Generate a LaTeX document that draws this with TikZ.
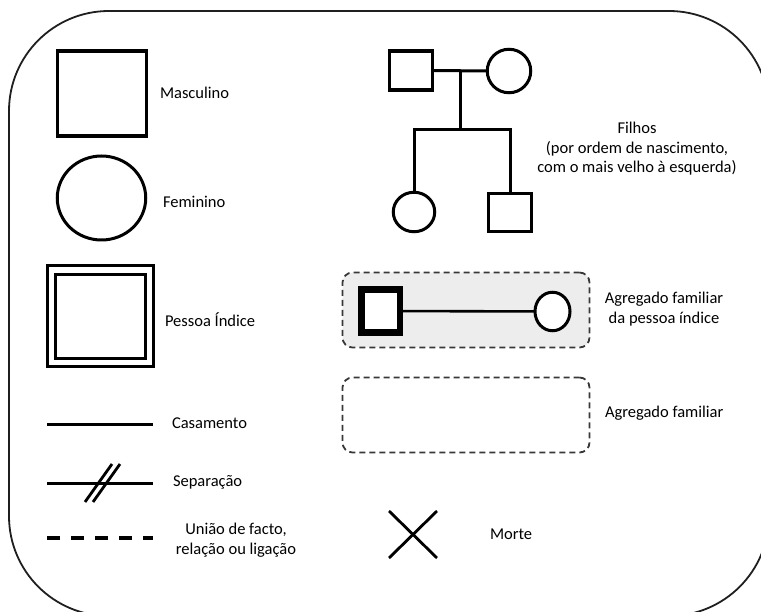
\documentclass[tikz,border=0pt]{standalone}
\usepackage{fontspec}
\setmainfont{Carlito}
\usetikzlibrary{shapes.geometric}
\begin{document}
\begin{tikzpicture}[x=1pt,y=-1pt,
  every node/.style={inner sep=0pt, outer sep=0pt},
  lbl/.style={font=\fontsize{16.5}{19.5}\selectfont, text=black, align=center},
  sq/.style={draw=black, line width=3.1pt, rectangle, fill=white},
  circ/.style={draw=black, line width=3pt, ellipse, fill=white},
  rel/.style={draw=black, line width=3pt},
  grp/.style={draw=black!78, line width=1.8pt, dash pattern=on 6pt off 4pt, rounded corners=10pt, rectangle}
]
\useasboundingbox (0,0) rectangle (761,612);
\clip (0,0) rectangle (761,612);
% outer frame
\draw[black!88, line width=1.8pt, rounded corners=100pt] (9,11) rectangle (769,616);

% Masculino
\node[sq, minimum width=89pt, minimum height=85pt] (male) at (102,93.5) {};
\node[lbl, anchor=west] (maleL) at (160,93) {Masculino};
% Feminino
\node[circ, minimum width=88.5pt, minimum height=84pt] (female) at (101.5,198) {};
\node[lbl, anchor=west] (femaleL) at (163,202) {Feminino};
% Pessoa Indice
\node[sq, minimum width=106.5pt, minimum height=101.5pt] (idx) at (100.5,316) {};
\node[sq, minimum width=90.5pt, minimum height=84.5pt] (idxin) at (100.5,316.5) {};
\node[lbl, anchor=west] (idxL) at (165,320) {Pessoa Índice};

% Casamento
\coordinate (ca) at (47,425);
\coordinate (cb) at (153,425);
\draw[rel] (ca) -- (cb);
\node[lbl, anchor=west] (casL) at (172,423) {Casamento};

% Separacao
\coordinate (sa) at (47,483);
\coordinate (sb) at (153,483);
\draw[rel] (sa) -- (sb);
\coordinate (s1a) at (85,502);
\coordinate (s1b) at (112,464);
\coordinate (s2a) at (93,502);
\coordinate (s2b) at (120,464);
\draw[rel, line width=2.8pt] (s1a) -- (s1b);
\draw[rel, line width=2.8pt] (s2a) -- (s2b);
\node[lbl, anchor=west] (sepL) at (173,482) {Separação};

% Uniao de facto
\coordinate (ua) at (47,538);
\coordinate (ub) at (153,538);
\draw[rel, line width=4pt, dash pattern=on 13pt off 11pt] (ua) -- (ub);
\node[lbl] (uniL) at (236,540) {União de facto,\\relação ou ligação};

% Pedigree
\node[sq, minimum width=43.5pt, minimum height=39pt] (father) at (411,70.5) {};
\node[circ, minimum width=43.5pt, minimum height=43.5pt] (mother) at (509,71) {};
\coordinate (mid) at (460,70.5);
\coordinate (sib) at (460,130);
\node[circ, minimum width=41.5pt, minimum height=39.5pt] (child1) at (414,212) {};
\node[sq, minimum width=43.5pt, minimum height=38.5pt] (child2) at (510,212.5) {};
\coordinate (sibL) at (child1 |- sib);
\coordinate (sibR) at (child2 |- sib);
\draw[rel] (father) -- (mother);
\draw[rel] (mid) -- (sib);
\draw[rel, line join=miter] (child1.north) -- (sibL) -- (sibR) -- (child2.north);
\node[lbl] (filL) at (637,149) {Filhos\\(por ordem de nascimento,\\com o mais velho à esquerda)};

% Agregado familiar da pessoa indice
\node[grp, fill=black!7, minimum width=247pt, minimum height=75pt] (hh1) at (466,310) {};
\node[sq, line width=6.5pt, minimum width=38.5pt, minimum height=43pt] (pm) at (380.5,311) {};
\node[circ, line width=3pt, minimum width=35pt, minimum height=38.5pt] (pf) at (552.5,311.5) {};
\draw[black, line width=2.6pt] (pm) -- (pf);
\node[lbl] (hh1L) at (664,309) {Agregado familiar\\da pessoa índice};

% Agregado familiar
\node[grp, minimum width=247pt, minimum height=75pt] (hh2) at (466,415) {};
\node[lbl, anchor=west] (hh2L) at (605,413) {Agregado familiar};

% Morte
\coordinate (xa) at (389,511);
\coordinate (xb) at (437,558);
\coordinate (xc) at (389,558);
\coordinate (xd) at (437,511);
\draw[black, line width=2.8pt] (xa) -- (xb);
\draw[black, line width=2.8pt] (xc) -- (xd);
\node[lbl, anchor=west] (morL) at (490,534) {Morte};
\end{tikzpicture}
\end{document}
